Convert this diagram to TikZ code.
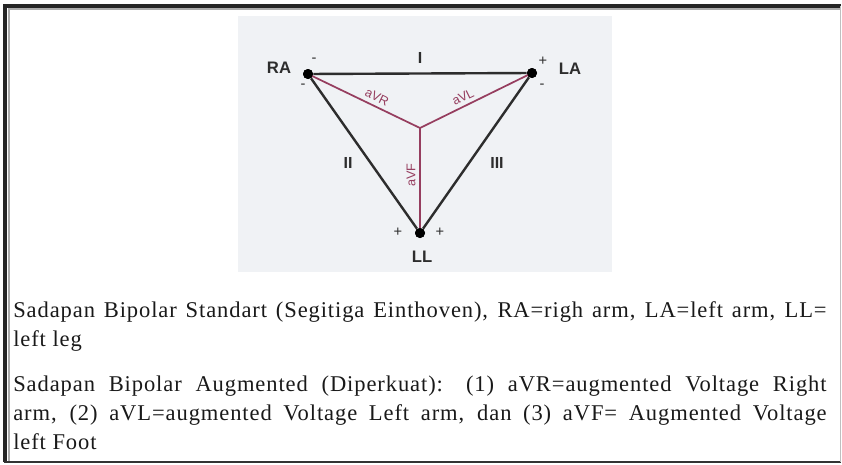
\documentclass[tikz,border=0pt]{standalone}
\usepackage{fontspec}
\setmainfont{Liberation Serif}
\newfontfamily\capfont[LetterSpace=4]{Liberation Serif}
\newfontfamily\lblfont{Liberation Sans}
\usetikzlibrary{positioning}
\definecolor{leadred}{RGB}{150,62,95}
\definecolor{inkgray}{RGB}{45,45,45}
\definecolor{photobg}{RGB}{240,242,245}
\tikzset{
  electrode/.style={circle,fill=black,inner sep=0pt,minimum size=7.5pt},
  lead/.style={draw=inkgray,line width=1.8pt},
  auglead/.style={draw=leadred,line width=1.3pt},
  limbname/.style={font=\lblfont\bfseries\fontsize{12.5}{12.5}\selectfont,text=inkgray},
  leadname/.style={font=\lblfont\bfseries\fontsize{12}{12}\selectfont,text=inkgray},
  augname/.style={font=\lblfont\fontsize{9.5}{9.5}\selectfont,text=leadred,inner sep=0pt},
  sign/.style={font=\lblfont\fontsize{11}{11}\selectfont,text=inkgray,inner sep=0pt},
  caption/.style={anchor=base west,inner sep=0pt,font=\capfont\fontsize{16.9}{20}\selectfont,text=black!90}
}
\begin{document}
\begin{tikzpicture}[x=0.75pt,y=-0.75pt]
    \useasboundingbox (0,0) rectangle (842,464);
    \fill[photobg] (238,16) rectangle (612,272);
    \node[electrode] (ra) at (308,74) {};
    \node[electrode] (la) at (532,73) {};
    \node[electrode] (ll) at (420,233) {};
    \coordinate (ctr) at (420,128);
    \draw[auglead] (ra.center) -- (ctr);
    \draw[auglead] (la.center) -- (ctr);
    \draw[auglead] (ctr) -- (ll.center);
    \draw[lead] (ra) -- (la);
    \draw[lead] (la) -- (ll);
    \draw[lead] (ll) -- (ra);
    \node[electrode] at (ra) {};
    \node[electrode] at (la) {};
    \node[electrode] at (ll) {};
    \node[limbname] (ra-t) at (279,68) {RA};
    \node[limbname] (la-t) at (570,69) {LA};
    \node[limbname] (ll-t) at (422,257) {LL};
    \node[leadname] (lead-i) at (420,58) {I};
    \node[leadname] (lead-ii) at (348,163) {II};
    \node[leadname] (lead-iii) at (497,163) {III};
    \node[augname,rotate=-26] (avr) at (377,97) {aVR};
    \node[augname,rotate=26] (avl) at (463,97) {aVL};
    \node[augname,rotate=90] (avf) at (411,175) {aVF};
    \node[sign] (ra-s1) at (314,60) {-};
    \node[sign] (ra-s2) at (303,86) {-};
    \node[sign] (la-s1) at (543,61) {+};
    \node[sign] (la-s2) at (542,86) {-};
    \node[sign] (ll-s1) at (398,232) {+};
    \node[sign] (ll-s2) at (440,232) {+};
    \node[caption] (p1a) at (13,317) {\makebox[610pt][s]{Sadapan Bipolar Standart (Segitiga Einthoven), RA=righ arm, LA=left arm, LL=}};
    \node[caption] (p1b) at (13,346) {left leg};
    \node[caption] (p2a) at (13,391) {\makebox[610pt][s]{Sadapan Bipolar Augmented (Diperkuat): (1) aVR=augmented Voltage Right}};
    \node[caption] (p2b) at (13,420) {\makebox[610pt][s]{arm, (2) aVL=augmented Voltage Left arm, dan (3) aVF= Augmented Voltage}};
    \node[caption] (p2c) at (13,449) {left Foot};
    \draw[black!85,line width=2.3pt] (5,462) -- (5,6) -- (841,6);
    \draw[gray!65,line width=1.5pt] (8.5,461) -- (8.5,9) -- (840,9);
    \draw[black!80,line width=1.5pt] (4,461.5) -- (841,461.5);
    \draw[gray!50,line width=0.75pt] (840.5,6) -- (840.5,462);
\end{tikzpicture}
\end{document}
